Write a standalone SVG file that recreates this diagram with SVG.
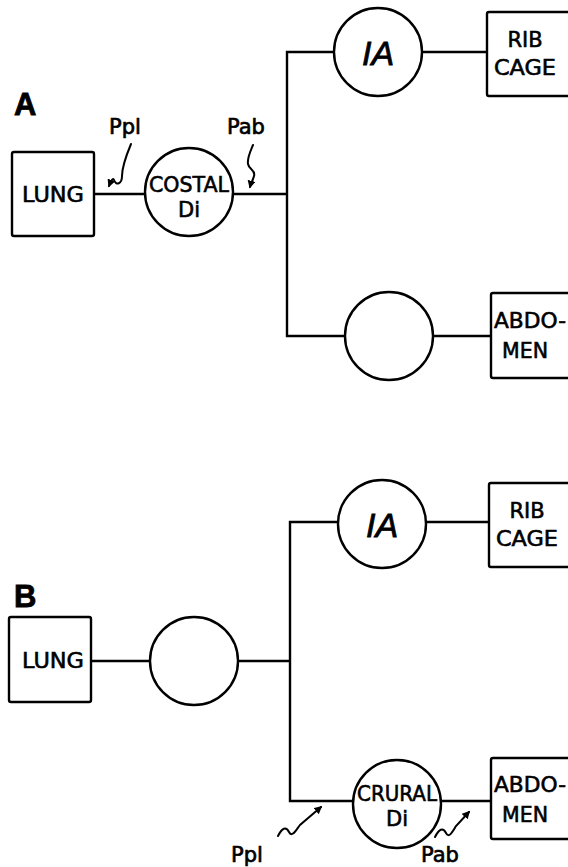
<svg xmlns="http://www.w3.org/2000/svg" width="568" height="867" viewBox="0 0 568 867">
<defs>
<style>
.box{fill:#fff;stroke:#000;stroke-width:2.4}
.circ{fill:#fff;stroke:#000;stroke-width:2.4}
.ln{fill:none;stroke:#000;stroke-width:2.4}
.sq{fill:none;stroke:#000;stroke-width:2;stroke-linecap:round}
.t{font-family:"DejaVu Sans","Liberation Sans",sans-serif;font-size:21px;fill:#000;stroke:#000;stroke-width:0.6;text-anchor:middle}
.lbl{font-family:"Liberation Sans",sans-serif;font-weight:bold;font-size:31px;fill:#000;stroke:#000;stroke-width:0.8}
.ia{font-family:"Liberation Sans",sans-serif;font-style:italic;font-size:34px;fill:#000;stroke:#000;stroke-width:0.8;text-anchor:middle}
.p{font-family:"DejaVu Sans","Liberation Sans",sans-serif;font-size:21px;fill:#000;stroke:#000;stroke-width:0.7;text-anchor:middle}
</style>
<marker id="ah" viewBox="0 0 10 10" refX="8" refY="5" markerWidth="8" markerHeight="8" orient="auto" markerUnits="userSpaceOnUse">
<path d="M0,0 L10,5 L0,10 z" fill="#000"/>
</marker>
</defs>
<rect width="568" height="867" fill="#fff"/>

<g id="connectors">
<!-- A -->
<path class="ln" d="M94,194 H145"/>
<path class="ln" d="M233,194 H287"/>
<path class="ln" d="M334,52 H287 V336 H345"/>
<path class="ln" d="M422,52 H487"/>
<path class="ln" d="M433,336 H491"/>
<!-- B -->
<path class="ln" d="M91,661 H150"/>
<path class="ln" d="M238,661 H290"/>
<path class="ln" d="M338,522 H290 V801 H353"/>
<path class="ln" d="M426,522 H489"/>
<path class="ln" d="M441,801 H491"/>
<!-- squiggle arrows -->
<path class="sq" d="M131,144 C126,156 122,166 122,176 C122,184 116,186 114,180 C113,177 111,181 109,186" marker-end="url(#ah)"/>
<path class="sq" d="M253,145 C250,152 247,158 248,164 C249,170 256,170 254,176 C253,180 251,183 250,187" marker-end="url(#ah)"/>
<path class="sq" d="M278,836 C282,828 286,826 289,832 C292,838 296,830 300,825 L321,807" marker-end="url(#ah)"/>
<path class="sq" d="M435,837 C439,829 443,827 446,833 C449,839 453,831 456,826 L469,812" marker-end="url(#ah)"/>
</g>

<text class="lbl" x="14" y="115">A</text>
<text class="lbl" x="14" y="607">B</text>

<text class="p" x="125" y="134">Ppl</text>
<text class="p" x="246" y="134">Pab</text>
<text class="p" x="247" y="862">Ppl</text>
<text class="p" x="440" y="862">Pab</text>

<g id="lungA">
<rect class="box" x="12" y="152" width="82" height="84" rx="2"/>
<text class="t" x="53" y="202" textLength="62" lengthAdjust="spacingAndGlyphs">LUNG</text>
</g>
<g id="costalA">
<circle class="circ" cx="189" cy="192" r="44"/>
<text class="t" x="189" y="192" textLength="80" lengthAdjust="spacingAndGlyphs">COSTAL</text>
<text class="t" x="189" y="217">Di</text>
</g>
<g id="iaA">
<circle class="circ" cx="378" cy="52" r="44"/>
<text class="ia" x="378" y="65">IA</text>
</g>
<g id="ribA">
<rect class="box" x="487" y="12" width="90" height="84" rx="2"/>
<text class="t" x="525" y="47">RIB</text>
<text class="t" x="525" y="75" textLength="62" lengthAdjust="spacingAndGlyphs">CAGE</text>
</g>
<g id="circA2">
<circle class="circ" cx="389" cy="336" r="44"/>
</g>
<g id="abdA">
<rect class="box" x="491" y="293" width="90" height="85" rx="2"/>
<text class="t" x="530" y="328" textLength="72" lengthAdjust="spacingAndGlyphs">ABDO-</text>
<text class="t" x="525" y="358" textLength="46" lengthAdjust="spacingAndGlyphs">MEN</text>
</g>

<g id="lungB">
<rect class="box" x="9" y="617" width="82" height="85" rx="2"/>
<text class="t" x="53" y="668" textLength="62" lengthAdjust="spacingAndGlyphs">LUNG</text>
</g>
<g id="circB1">
<circle class="circ" cx="194" cy="661" r="44"/>
</g>
<g id="iaB">
<circle class="circ" cx="382" cy="524" r="44"/>
<text class="ia" x="382" y="537">IA</text>
</g>
<g id="ribB">
<rect class="box" x="489" y="483" width="90" height="84" rx="2"/>
<text class="t" x="527" y="518">RIB</text>
<text class="t" x="527" y="546" textLength="62" lengthAdjust="spacingAndGlyphs">CAGE</text>
</g>
<g id="cruralB">
<circle class="circ" cx="397" cy="804" r="44"/>
<text class="t" x="397" y="801" textLength="80" lengthAdjust="spacingAndGlyphs">CRURAL</text>
<text class="t" x="397" y="826">Di</text>
</g>
<g id="abdB">
<rect class="box" x="491" y="758" width="90" height="81" rx="2"/>
<text class="t" x="530" y="792" textLength="72" lengthAdjust="spacingAndGlyphs">ABDO-</text>
<text class="t" x="525" y="822" textLength="46" lengthAdjust="spacingAndGlyphs">MEN</text>
</g>
</svg>
